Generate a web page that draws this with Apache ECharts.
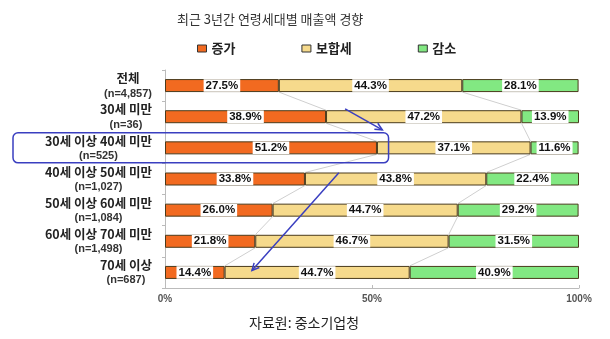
<!DOCTYPE html>
<html>
<head>
<meta charset="utf-8">
<script src="https://cdn.jsdelivr.net/npm/echarts@6/dist/echarts.min.js"></script>
<style>
  html, body { margin: 0; padding: 0; background: #fff; }
  #chart { width: 610px; height: 339px; }
</style>
</head>
<body>
<div id="chart"></div>
<script>
// Age groups (top to bottom) and their sample sizes
const groups = ['전체', '30세 미만', '30세 이상 40세 미만', '40세 이상 50세 미만', '50세 이상 60세 미만', '60세 이상 70세 미만', '70세 이상'];
const sampleSizes = ['n=4,857', 'n=36', 'n=525', 'n=1,027', 'n=1,084', 'n=1,498', 'n=687'];

// Share of firms by 3-year sales trend (%)
const increase = [27.5, 38.9, 51.2, 33.8, 26.0, 21.8, 14.4];
const flat     = [44.3, 47.2, 37.1, 43.8, 44.7, 46.7, 44.7];
const decrease = [28.1, 13.9, 11.6, 22.4, 29.2, 31.5, 40.9];

const seriesNames = ['증가', '보합세', '감소'];
const xTicks = [0, 50, 100];

const FONT = '"Liberation Sans", Arial, "Noto Sans CJK KR", sans-serif';
const KFONT = '"Noto Sans CJK KR", "Liberation Sans", sans-serif';
const BAR_H = 13;

const chart = echarts.init(document.getElementById('chart'));

const categories = groups.map((g, i) => g + '\n(' + sampleSizes[i] + ')');

// Series lines joining segment boundaries between neighbouring bars
const boundary1 = increase;
const boundary2 = increase.map((v, i) => v + flat[i]);
const connectorData = [];
for (let i = 0; i < groups.length - 1; i++) {
  connectorData.push([boundary1[i], i, boundary1[i + 1], i + 1]);
  connectorData.push([boundary2[i], i, boundary2[i + 1], i + 1]);
}

function segmentLabel() {
  return {
    show: true,
    position: 'inside',
    formatter: p => p.value.toFixed(1) + '%',
    color: '#111',
    fontFamily: FONT,
    fontWeight: 'bold',
    fontSize: 11.5,
    backgroundColor: '#fff',
    padding: [1, 2, 0, 2]
  };
}

function barSeries(name, data, color) {
  return {
    name: name,
    type: 'bar',
    stack: 'total',
    data: data,
    barWidth: BAR_H,
    itemStyle: { color: color, borderColor: '#4a3b1c', borderWidth: 1 },
    label: segmentLabel(),
    z: 3
  };
}

chart.setOption({
  animation: false,
  title: {
    text: '최근 3년간 연령세대별 매출액 경향',
    left: 172,
    top: 8,
    textStyle: { fontFamily: KFONT, fontSize: 13, fontWeight: 'normal', color: '#333' }
  },
  legend: {
    data: seriesNames,
    left: 192,
    top: 37,
    itemGap: 66,
    itemWidth: 9,
    itemHeight: 7,
    icon: 'rect',
    itemStyle: { borderColor: '#333', borderWidth: 1 },
    textStyle: { fontFamily: KFONT, fontSize: 13, fontWeight: 'bold', color: '#222' }
  },
  grid: { left: 165, right: 31, top: 70, bottom: 51 },
  xAxis: {
    type: 'value',
    min: 0,
    max: 100,
    interval: 50,
    axisLine: { show: true, lineStyle: { color: '#bbb' } },
    axisTick: { show: true, inside: true, length: 3, lineStyle: { color: '#bbb' } },
    splitLine: { show: false },
    axisLabel: {
      formatter: v => (xTicks.indexOf(v) >= 0 ? v + '%' : ''),
      fontFamily: FONT,
      fontWeight: 'bold',
      fontSize: 10,
      color: '#555',
      margin: 6
    }
  },
  yAxis: {
    type: 'category',
    inverse: true,
    data: categories,
    axisLine: { show: true, lineStyle: { color: '#bbb' } },
    axisTick: { show: true, length: 3, lineStyle: { color: '#bbb' } },
    axisLabel: {
      margin: 13,
      align: 'right',
      formatter: v => {
        const parts = v.split('\n');
        return '{a|' + parts[0] + '}\n{b|' + parts[1] + '}';
      },
      rich: {
        a: { fontFamily: KFONT, fontSize: 12.5, fontWeight: 'bold', color: '#222', align: 'center', lineHeight: 16 },
        b: { fontFamily: FONT, fontSize: 11, fontWeight: 'bold', color: '#333', align: 'center', lineHeight: 14 }
      }
    }
  },
  series: [
    {
      type: 'custom',
      data: connectorData,
      silent: true,
      z: 1,
      renderItem: (params, api) => {
        const a = api.coord([api.value(0), api.value(1)]);
        const b = api.coord([api.value(2), api.value(3)]);
        return {
          type: 'line',
          shape: { x1: a[0], y1: a[1] + BAR_H / 2, x2: b[0], y2: b[1] - BAR_H / 2 },
          style: { stroke: '#cfcfcf', lineWidth: 1 }
        };
      }
    },
    barSeries(seriesNames[0], increase, '#f26a20'),
    barSeries(seriesNames[1], flat, '#f6da8c'),
    barSeries(seriesNames[2], decrease, '#82e882')
  ]
});

// Annotations: highlight box around the 30–40 group and trend arrows
const px = v => chart.convertToPixel({ xAxisIndex: 0 }, v);
const py = i => chart.convertToPixel({ yAxisIndex: 0 }, i);
const band = py(1) - py(0);
const BLUE = '#3a3fc0';

function arrow(x1, y1, x2, y2) {
  const ang = Math.atan2(y2 - y1, x2 - x1);
  const L = 8, spread = 0.45;
  return [
    { type: 'line', shape: { x1: x1, y1: y1, x2: x2, y2: y2 }, style: { stroke: BLUE, lineWidth: 1.5 }, z: 10 },
    {
      type: 'polyline',
      shape: { points: [
        [x2 - L * Math.cos(ang - spread), y2 - L * Math.sin(ang - spread)],
        [x2, y2],
        [x2 - L * Math.cos(ang + spread), y2 - L * Math.sin(ang + spread)]
      ] },
      style: { stroke: BLUE, lineWidth: 1.5, fill: null },
      z: 10
    }
  ];
}

const hy = py(2);
chart.setOption({
  graphic: [
    {
      type: 'rect',
      shape: { x: 13, y: hy - 15, width: px(54) - 13, height: 30, r: 5 },
      style: { stroke: BLUE, lineWidth: 1.5, fill: null },
      z: 10
    },
    ...arrow(px(43.5), py(1) - band * 0.25, px(52.5), py(1) + band * 0.42),
    ...arrow(px(42), py(3) - band * 0.2, px(21), py(6) - band * 0.06),
    {
      type: 'text',
      left: 249,
      top: 316,
      style: { text: '자료원: 중소기업청', fontFamily: KFONT, fontSize: 14, fill: '#222' }
    }
  ]
});
</script>
</body>
</html>
